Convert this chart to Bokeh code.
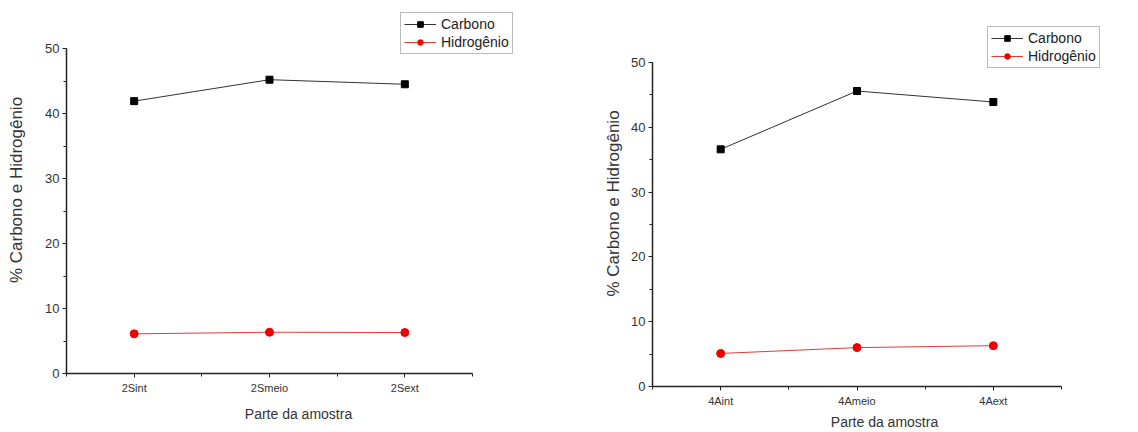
from bokeh.plotting import figure
from bokeh.layouts import row, column
from bokeh.models import Range1d, FixedTicker, SingleIntervalTicker, Legend, LegendItem
from bokeh.embed import file_html
from bokeh.resources import INLINE

# ---- data ----
cats_2S = ["2Sint", "2Smeio", "2Sext"]
carbono_2S = [41.9, 45.2, 44.5]
hidrogenio_2S = [6.1, 6.35, 6.3]

cats_4A = ["4Aint", "4Ameio", "4Aext"]
carbono_4A = [36.6, 45.6, 43.9]
hidrogenio_4A = [5.1, 6.0, 6.3]

y_max = 50
y_label = "% Carbono e Hidrogênio"
x_label = "Parte da amostra"
FONT = "Liberation Sans"


def make_fig(cats, carb, hid, width, height, frame_left, axis_right, frame_right,
             frame_top, axis_top, frame_bottom, ylab_standoff, xlab_standoff, legend_loc):
    n = len(cats)
    xs = list(range(1, n + 1))
    # axes occupy only part of the frame; the rest leaves room for the legend
    x_end = 0.5 + n * (frame_right - frame_left) / (axis_right - frame_left)
    y_end = y_max * (frame_bottom - frame_top) / (frame_bottom - axis_top)
    p = figure(width=width, height=height, output_backend="svg", toolbar_location=None,
               title=None,
               x_range=Range1d(0.5, x_end), y_range=Range1d(0, y_end),
               min_border_left=frame_left, min_border_right=width - frame_right,
               min_border_top=frame_top, min_border_bottom=height - frame_bottom)
    p.outline_line_color = None
    p.grid.visible = False
    p.background_fill_color = "white"
    p.border_fill_color = "white"

    # x axis
    xa = p.xaxis[0]
    xa.ticker = FixedTicker(ticks=xs, minor_ticks=[x - 0.5 for x in xs] + [xs[-1] + 0.5])
    xa.major_label_overrides = {x: c for x, c in zip(xs, cats)}
    xa.axis_label = x_label
    xa.bounds = (0.5, n + 0.5)
    # y axis
    ya = p.yaxis[0]
    ya.ticker = SingleIntervalTicker(interval=10, num_minor_ticks=2)
    ya.axis_label = y_label
    ya.bounds = (0, y_max)

    for ax in (xa, ya):
        ax.axis_line_color = "#222222"
        ax.axis_line_width = 1.5
        ax.major_tick_line_color = "#222222"
        ax.minor_tick_line_color = "#222222"
        ax.major_tick_out = 4
        ax.major_tick_in = 0
        ax.minor_tick_out = 3
        ax.minor_tick_in = 0
        ax.major_label_text_font = FONT
        ax.major_label_text_color = "#333333"
        ax.axis_label_text_font = FONT
        ax.axis_label_text_font_style = "normal"
        ax.axis_label_text_color = "#333333"
    xa.major_label_text_font_size = "11px"
    xa.major_label_standoff = 4
    xa.axis_label_text_font_size = "14px"
    xa.axis_label_standoff = xlab_standoff
    ya.major_label_text_font_size = "13px"
    ya.major_label_standoff = 3
    ya.axis_label_text_font_size = "17px"
    ya.axis_label_standoff = ylab_standoff

    lc = p.line(xs, carb, line_color="#333333", line_width=1)
    sc = p.scatter(xs, carb, marker="square", size=7, fill_color="black", line_color="black")
    lh = p.line(xs, hid, line_color="#e03a3a", line_width=1)
    sh = p.scatter(xs, hid, marker="circle", size=8, fill_color="#ee0000", line_color="#ee0000")

    legend = Legend(items=[LegendItem(label="Carbono", renderers=[lc, sc]),
                           LegendItem(label="Hidrogênio", renderers=[lh, sh])],
                    location=legend_loc)
    legend.glyph_width = 32
    legend.glyph_height = 14
    legend.label_height = 14
    legend.spacing = 2
    legend.padding = 3
    legend.margin = 0
    legend.label_standoff = 5
    legend.label_text_font = FONT
    legend.label_text_font_size = "14px"
    legend.label_text_color = "#222222"
    legend.border_line_color = "#777777"
    legend.border_line_width = 1
    legend.background_fill_alpha = 1
    p.add_layout(legend, "center")
    return p


p1 = make_fig(cats_2S, carbono_2S, hidrogenio_2S, 560, 430,
              66, 472, 530, 6, 48, 373, 16, 9, (334, 319))
p2 = make_fig(cats_4A, carbono_4A, hidrogenio_4A, 576, 432,
              92, 501, 556, 20, 62, 386, 5, 4, (335, 318))

layout = row(column(p1), column(p2))
open("out.html", "w").write(file_html(layout, INLINE))
